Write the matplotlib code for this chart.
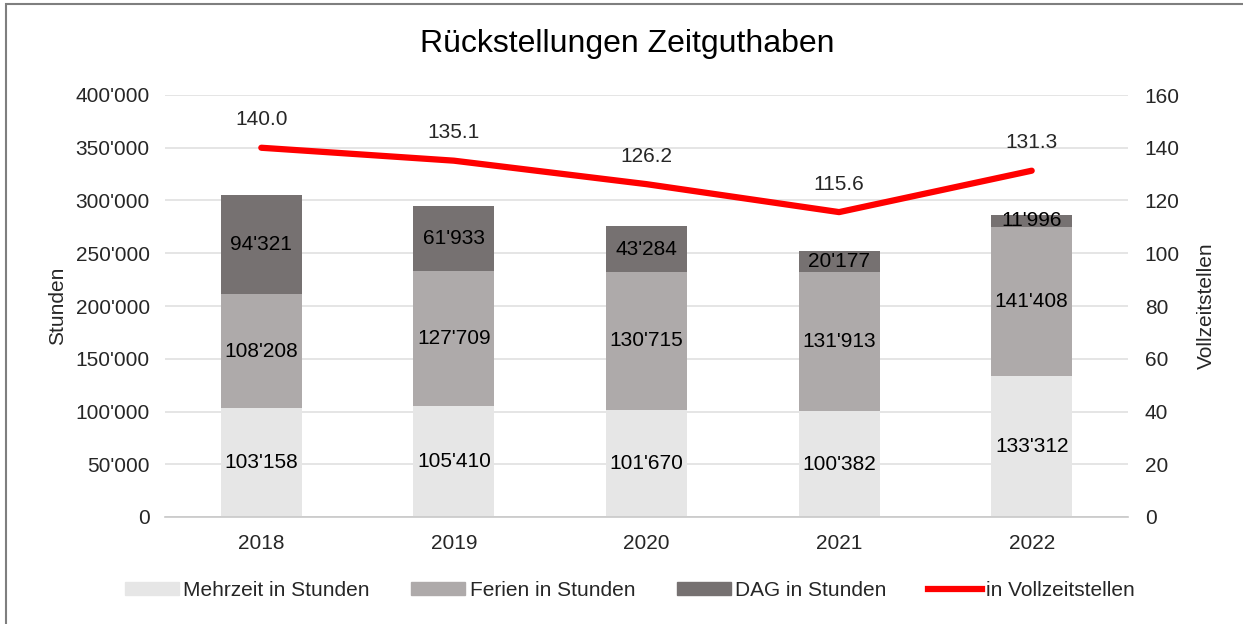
import matplotlib.pyplot as plt
import numpy as np
from matplotlib.patches import Rectangle
from matplotlib.lines import Line2D

plt.rcParams['font.family'] = ['Liberation Sans', 'DejaVu Sans']

years = ['2018', '2019', '2020', '2021', '2022']
mehrzeit = [103158, 105410, 101670, 100382, 133312]
ferien = [108208, 127709, 130715, 131913, 141408]
dag = [94321, 61933, 43284, 20177, 11996]
vollzeit = [140.0, 135.1, 126.2, 115.6, 131.3]

c_light = '#E6E6E6'
c_mid = '#AEAAAA'
c_dark = '#767171'
txt = '#262626'
FS = 15


def fmt(v):
    return f'{v:,.0f}'.replace(',', "'")


fig = plt.figure(figsize=(12.43, 6.24), dpi=100)
ax = fig.add_axes([165 / 1243, 1 - 517 / 624, (1128 - 165) / 1243, (517 - 95) / 624])
ax2 = ax.twinx()

x = np.arange(len(years))
w = 0.42
ax.bar(x, mehrzeit, w, color=c_light, zorder=2)
ax.bar(x, ferien, w, bottom=mehrzeit, color=c_mid, zorder=2)
bot3 = np.array(mehrzeit) + np.array(ferien)
ax.bar(x, dag, w, bottom=bot3, color=c_dark, zorder=2)

for i in range(len(years)):
    ax.text(x[i], mehrzeit[i] / 2, fmt(mehrzeit[i]), ha='center', va='center', fontsize=FS, color='black', zorder=3)
    ax.text(x[i], mehrzeit[i] + ferien[i] / 2, fmt(ferien[i]), ha='center', va='center', fontsize=FS, color='black', zorder=3)
    ax.text(x[i], bot3[i] + dag[i] / 2, fmt(dag[i]), ha='center', va='center', fontsize=FS, color='black', zorder=3)

ax.set_xlim(-0.5, 4.5)
ax.set_ylim(0, 400000)
ax.set_yticks(np.arange(0, 400001, 50000))
ax.set_yticklabels([fmt(v) for v in np.arange(0, 400001, 50000)])
ax.set_xticks(x)
ax.set_xticklabels(years)
ax.grid(axis='y', color='#E0E0E0', linewidth=1.2, zorder=0)
ax.set_axisbelow(True)
for s in ['top', 'right', 'left']:
    ax.spines[s].set_visible(False)
ax.spines['bottom'].set_color('#C8C8C8')
ax.spines['bottom'].set_linewidth(1.2)
ax.tick_params(axis='both', length=0, labelsize=FS, colors=txt, pad=11)
ax.tick_params(axis='x', pad=12)
ax.set_ylabel('Stunden', fontsize=FS, color=txt, labelpad=6)

ax2.plot(x, vollzeit, color='#FF0000', linewidth=4.5, solid_capstyle='round', zorder=4)
for i in range(len(years)):
    ax2.text(x[i], vollzeit[i] + 7, f'{vollzeit[i]:.1f}', ha='center', va='bottom', fontsize=FS, color=txt)
ax2.set_ylim(0, 160)
ax2.set_yticks(np.arange(0, 161, 20))
for s in ['top', 'right', 'left', 'bottom']:
    ax2.spines[s].set_visible(False)
ax2.tick_params(axis='y', length=0, labelsize=FS, colors=txt, pad=12)
ax2.set_ylabel('Vollzeitstellen', fontsize=FS, color=txt, labelpad=12)

fig.text(627 / 1243, 1 - 44 / 624, 'Rückstellungen Zeitguthaben', ha='center', va='center', fontsize=23, color='black')

handles = [Rectangle((0, 0), 1, 1, color=c_light), Rectangle((0, 0), 1, 1, color=c_mid),
           Rectangle((0, 0), 1, 1, color=c_dark), Line2D([0], [0], color='#FF0000', linewidth=4.5)]
labels = ['Mehrzeit in Stunden', 'Ferien in Stunden', 'DAG in Stunden', 'in Vollzeitstellen']
fig.legend(handles, labels, loc='center', bbox_to_anchor=(630 / 1243, 1 - 590 / 624), ncol=4, frameon=False,
           fontsize=FS, handlelength=2.6, handleheight=0.6, handletextpad=0.2, columnspacing=2.0,
           labelcolor=txt)

fig.add_artist(Rectangle((6 / 1243, -0.1), 1.2, 1 - 4 / 624 + 0.1, transform=fig.transFigure,
                         fill=False, edgecolor='#7F7F7F', linewidth=1.5))

fig.savefig('out.png', dpi=100)
